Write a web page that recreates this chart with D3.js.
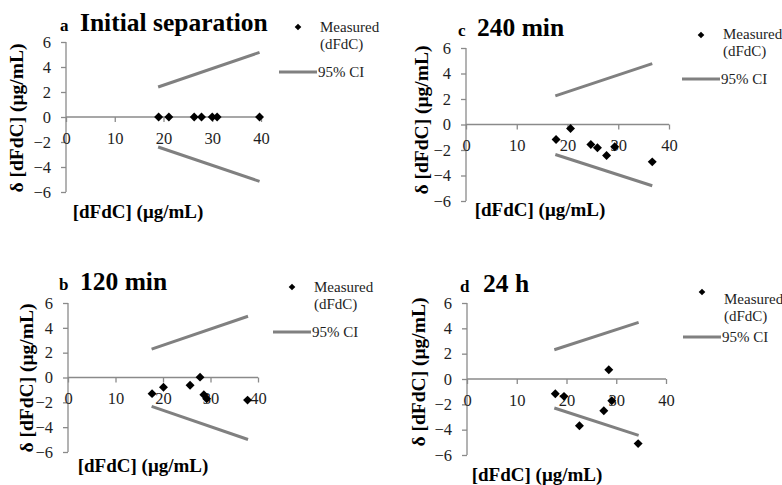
<!DOCTYPE html>
<html>
<head>
<meta charset="utf-8">
<script src="https://cdn.jsdelivr.net/npm/d3@7"></script>
<style>
  html, body { margin: 0; padding: 0; background: #fff; }
  svg { display: block; }
  svg text { font-family: "Liberation Serif", "Times New Roman", serif; }
</style>
</head>
<body>
<svg id="chart" width="782" height="485"></svg>
<script>
// Axis ticks shared by all four panels
const xTicks = [0, 10, 20, 30, 40];
const yTicks = [-6, -4, -2, 0, 2, 4, 6];

// Panel labels
const panelLetters = ["a", "b", "c", "d"];
const panelTitles = ["Initial separation", "120 min", "240 min", "24 h"];

// Measured dFdC deviations per panel
const measuredXa = [19.0, 21.1, 26.3, 27.8, 30.0, 31.0, 39.7];
const measuredYa = [0, 0, 0, 0, 0, 0, 0];
const measuredXb = [17.7, 20.1, 25.7, 27.8, 28.6, 29.2, 37.8];
const measuredYb = [-1.3, -0.78, -0.62, 0.03, -1.39, -1.71, -1.82];
const measuredXc = [17.75, 20.6, 24.6, 25.9, 27.7, 29.3, 36.7];
const measuredYc = [-1.17, -0.31, -1.57, -1.83, -2.43, -1.75, -2.93];
const measuredXd = [17.75, 19.5, 22.6, 27.5, 28.5, 29.1, 34.4];
const measuredYd = [-1.16, -1.37, -3.69, -2.5, 0.73, -1.71, -5.1];

// 95% CI bounds (start and end of each line)
const ciXa = [18.9, 39.7];  const ciUpperA = [2.4, 5.17];  const ciLowerA = [-2.4, -5.15];
const ciXb = [17.6, 37.9];  const ciUpperB = [2.28, 4.93]; const ciLowerB = [-2.33, -4.99];
const ciXc = [17.6, 36.7];  const ciUpperC = [2.24, 4.78]; const ciLowerC = [-2.35, -4.8];
const ciXd = [17.55, 34.5]; const ciUpperD = [2.31, 4.47]; const ciLowerD = [-2.29, -4.45];

const legendLabels = ["Measured", "(dFdC)", "95% CI"];
const xTitle = "[dFdC] (μg/mL)";
const yTitle = "δ [dFdC] (μg/mL)";

const panelData = [
  { mx: measuredXa, my: measuredYa, cx: ciXa, cu: ciUpperA, cl: ciLowerA },
  { mx: measuredXb, my: measuredYb, cx: ciXb, cu: ciUpperB, cl: ciLowerB },
  { mx: measuredXc, my: measuredYc, cx: ciXc, cu: ciUpperC, cl: ciLowerC },
  { mx: measuredXd, my: measuredYd, cx: ciXd, cu: ciUpperD, cl: ciLowerD }
];

// Page geometry of each panel
const layout = [
  { x0: 66, x1: 261, yTop: 42, yBot: 192, letterX: 60, titleX: 80, titleY: 31,
    yTitleX: 23, yTitleY: 118, xTitleX: 138, xTitleY: 218,
    legX: 279, legDiamondY: 27, legTextY: 32, legLineY: 72 },
  { x0: 68, x1: 258, yTop: 303, yBot: 452, letterX: 59, titleX: 80, titleY: 290,
    yTitleX: 33, yTitleY: 378, xTitleX: 143, xTitleY: 472,
    legX: 273, legDiamondY: 287, legTextY: 292, legLineY: 332 },
  { x0: 466, x1: 669, yTop: 48, yBot: 201, letterX: 458, titleX: 477, titleY: 36,
    yTitleX: 428, yTitleY: 120, xTitleX: 540, xTitleY: 216,
    legX: 682, legDiamondY: 35, legTextY: 39, legLineY: 79 },
  { x0: 467, x1: 666, yTop: 303, yBot: 455, letterX: 460, titleX: 483, titleY: 292,
    yTitleX: 425, yTitleY: 372, xTitleX: 537, xTitleY: 481,
    legX: 683, legDiamondY: 292, legTextY: 304, legLineY: 337 }
];

const serif = "'Liberation Serif', 'Times New Roman', serif";
const svg = d3.select("#chart");
const axisColor = "#8a8a8a";
const ciColor = "#808080";
const textColor = "#1e1e1e";
const diamond = d3.symbol().type(d3.symbolSquare);

panelData.forEach((pd, i) => {
  const L = layout[i];
  const x = d3.scaleLinear().domain([0, 40]).range([L.x0, L.x1]);
  const y = d3.scaleLinear().domain([-6, 6]).range([L.yBot, L.yTop]);
  const g = svg.append("g").style("font-family", serif);

  // y axis at x = 0
  const yAxis = g.append("g")
    .attr("transform", `translate(${x(0)},0)`)
    .call(d3.axisLeft(y).tickValues(yTicks).tickSize(5).tickPadding(10)
      .tickFormat(d => d < 0 ? "\u2212" + Math.abs(d) : d));
  // x axis at y = 0
  const xAxis = g.append("g")
    .attr("transform", `translate(0,${y(0)})`)
    .call(d3.axisBottom(x).tickValues(xTicks).tickSize(5).tickPadding(10));

  [yAxis, xAxis].forEach(ax => {
    ax.attr("font-family", null).attr("font-size", null);
    ax.select(".domain").attr("stroke", axisColor).attr("stroke-width", 1.3);
    ax.selectAll(".tick line").attr("stroke", axisColor).attr("stroke-width", 1.3);
    ax.selectAll(".tick text")
      .attr("fill", textColor)
      .style("font-family", serif)
      .style("font-size", "16.5px");
  });
  yAxis.select(".domain").attr("d", `M0,${y(6)}V${y(-6)}`);
  xAxis.select(".domain").attr("d", `M${x(0)},0H${x(40)}`);

  // 95% CI lines
  const line = d3.line().x(d => x(d[0])).y(d => y(d[1]));
  [pd.cu, pd.cl].forEach(bound => {
    g.append("path")
      .datum(pd.cx.map((v, k) => [v, bound[k]]))
      .attr("d", line)
      .attr("fill", "none")
      .attr("stroke", ciColor)
      .attr("stroke-width", 3);
  });

  // Measured points
  g.selectAll("path.pt")
    .data(pd.mx.map((v, k) => [v, pd.my[k]]))
    .join("path")
    .attr("class", "pt")
    .attr("d", diamond.size(40))
    .attr("transform", d => `translate(${x(d[0])},${y(d[1])}) rotate(45)`)
    .attr("fill", "#000");

  // Panel title
  g.append("text")
    .attr("x", L.letterX).attr("y", L.titleY)
    .style("font-weight", "bold").style("font-size", "17px")
    .attr("fill", "#000")
    .text(panelLetters[i]);
  g.append("text")
    .attr("x", L.titleX).attr("y", L.titleY)
    .style("font-weight", "bold").style("font-size", "25.5px")
    .attr("fill", "#000")
    .text(panelTitles[i]);

  // Axis titles
  g.append("text")
    .attr("x", L.xTitleX).attr("y", L.xTitleY)
    .attr("text-anchor", "middle")
    .style("font-weight", "bold").style("font-size", "19px")
    .attr("fill", "#000")
    .text(xTitle);
  g.append("text")
    .attr("transform", `translate(${L.yTitleX},${L.yTitleY}) rotate(-90)`)
    .attr("text-anchor", "middle")
    .style("font-weight", "bold").style("font-size", "19.5px")
    .attr("fill", "#000")
    .text(yTitle);

  // Legend
  const lg = g.append("g");
  lg.append("path")
    .attr("d", diamond.size(22))
    .attr("transform", `translate(${L.legX + 19},${L.legDiamondY}) rotate(45)`)
    .attr("fill", "#000");
  lg.append("text")
    .attr("x", L.legX + 41).attr("y", L.legTextY)
    .style("font-size", "15px").attr("fill", textColor)
    .text(legendLabels[0]);
  lg.append("text")
    .attr("x", L.legX + 41).attr("y", L.legTextY + 17)
    .style("font-size", "15px").attr("fill", textColor)
    .text(legendLabels[1]);
  lg.append("line")
    .attr("x1", L.legX).attr("x2", L.legX + 38)
    .attr("y1", L.legLineY).attr("y2", L.legLineY)
    .attr("stroke", ciColor).attr("stroke-width", 3);
  lg.append("text")
    .attr("x", L.legX + 39).attr("y", L.legLineY + 5)
    .style("font-size", "15px").attr("fill", textColor)
    .text(legendLabels[2]);
});
</script>
</body>
</html>
